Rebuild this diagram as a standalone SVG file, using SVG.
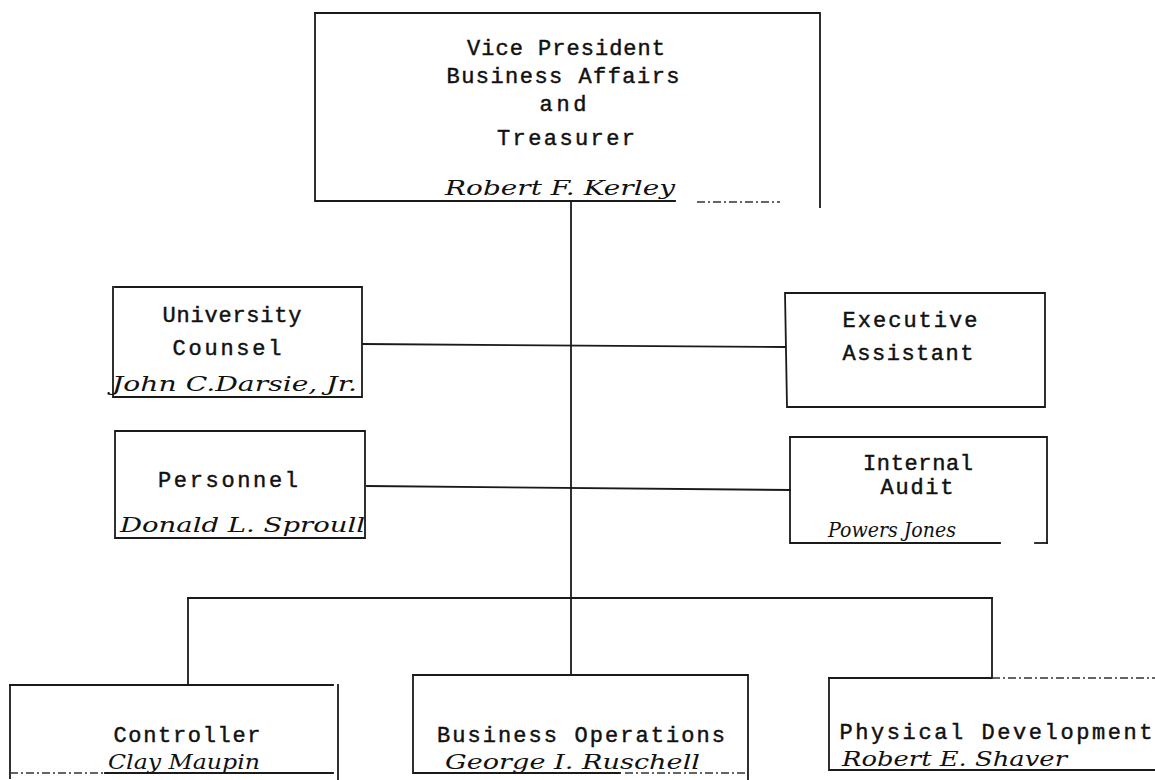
<svg xmlns="http://www.w3.org/2000/svg" width="1155" height="780" viewBox="0 0 1155 780">
<style>
.ln{fill:none;stroke:#1a1a1a;stroke-width:1.8;stroke-linecap:square}
.dl{fill:none;stroke:#333;stroke-width:1.4;stroke-dasharray:8 3 2 3}
.t{font-family:"Liberation Mono","Courier New",monospace;font-size:22px;fill:#111;stroke:#111;stroke-width:0.45;text-anchor:middle}
.n{font-family:"DejaVu Serif","Liberation Serif",serif;font-style:italic;font-size:21px;fill:#111}
</style>
<rect width="1155" height="780" fill="#fff"/>
<g id="connectors">
<path class="ln" d="M571,201 V675"/>
<path class="ln" d="M363,344 L785,347"/>
<path class="ln" d="M367,486 L790,490"/>
<path class="ln" d="M188,598 H992"/>
<path class="ln" d="M188,598 V685"/>
<path class="ln" d="M992,598 V678"/>
</g>
<g id="vp">
<path class="ln" d="M315,13 H820 V207"/>
<path class="ln" d="M315,13 V201 H675"/>
<path class="dl" d="M697,202 H780"/>
<text class="t" x="566" y="55" textLength="198">Vice President</text>
<text class="t" x="563" y="83" textLength="233">Business Affairs</text>
<text class="t" x="563" y="111" textLength="47">and</text>
<text class="t" x="566" y="145" textLength="138">Treasurer</text>
<text class="n" x="445" y="195" textLength="230" lengthAdjust="spacingAndGlyphs">Robert F. Kerley</text>
</g>
<g id="counsel">
<path class="ln" d="M115,287 H362 V397 H113 V287"/>
<text class="t" x="232" y="322" textLength="139">University</text>
<text class="t" x="227" y="355" textLength="109">Counsel</text>
<text class="n" x="112" y="391" textLength="245" lengthAdjust="spacingAndGlyphs">John C.Darsie, Jr.</text>
</g>
<g id="personnel">
<path class="ln" d="M115,431 H365 V538 H115 Z"/>
<text class="t" x="228" y="487" textLength="140">Personnel</text>
<text class="n" x="120" y="532" textLength="245" lengthAdjust="spacingAndGlyphs">Donald L. Sproull</text>
</g>
<g id="exec">
<path class="ln" d="M785,293 H1045 V407 H787 Z"/>
<text class="t" x="910" y="327" textLength="135">Executive</text>
<text class="t" x="908" y="360" textLength="131">Assistant</text>
</g>
<g id="audit">
<path class="ln" d="M790,437 H1047 V543"/>
<path class="ln" d="M790,437 V543 H1000"/>
<path class="ln" d="M1035,543 H1047"/>
<text class="t" x="918" y="470" textLength="110">Internal</text>
<text class="t" x="917" y="494" textLength="73">Audit</text>
<text class="n" x="828" y="537" textLength="128" lengthAdjust="spacingAndGlyphs">Powers Jones</text>
</g>
<g id="controller">
<path class="ln" d="M10,685 H333"/>
<path class="ln" d="M10,685 V778"/>
<path class="ln" d="M338,685 V780"/>
<path class="dl" d="M10,773 H105"/>
<path class="ln" d="M105,773 H333"/>
<text class="t" x="187" y="742" textLength="147">Controller</text>
<text class="n" x="108" y="769" textLength="152" lengthAdjust="spacingAndGlyphs">Clay Maupin</text>
</g>
<g id="busops">
<path class="ln" d="M413,675 H748 V780"/>
<path class="ln" d="M413,675 V773 H620"/>
<path class="dl" d="M625,773 H748"/>
<text class="t" x="581" y="742" textLength="288">Business Operations</text>
<text class="n" x="445" y="769" textLength="255" lengthAdjust="spacingAndGlyphs">George I. Ruschell</text>
</g>
<g id="physdev">
<path class="ln" d="M829,678 H992"/>
<path class="dl" d="M992,678 H1155"/>
<path class="ln" d="M829,678 V770 H1155"/>
<text class="t" x="996" y="739" textLength="313">Physical Development</text>
<text class="n" x="842" y="766" textLength="225" lengthAdjust="spacingAndGlyphs">Robert E. Shaver</text>
</g>
</svg>
